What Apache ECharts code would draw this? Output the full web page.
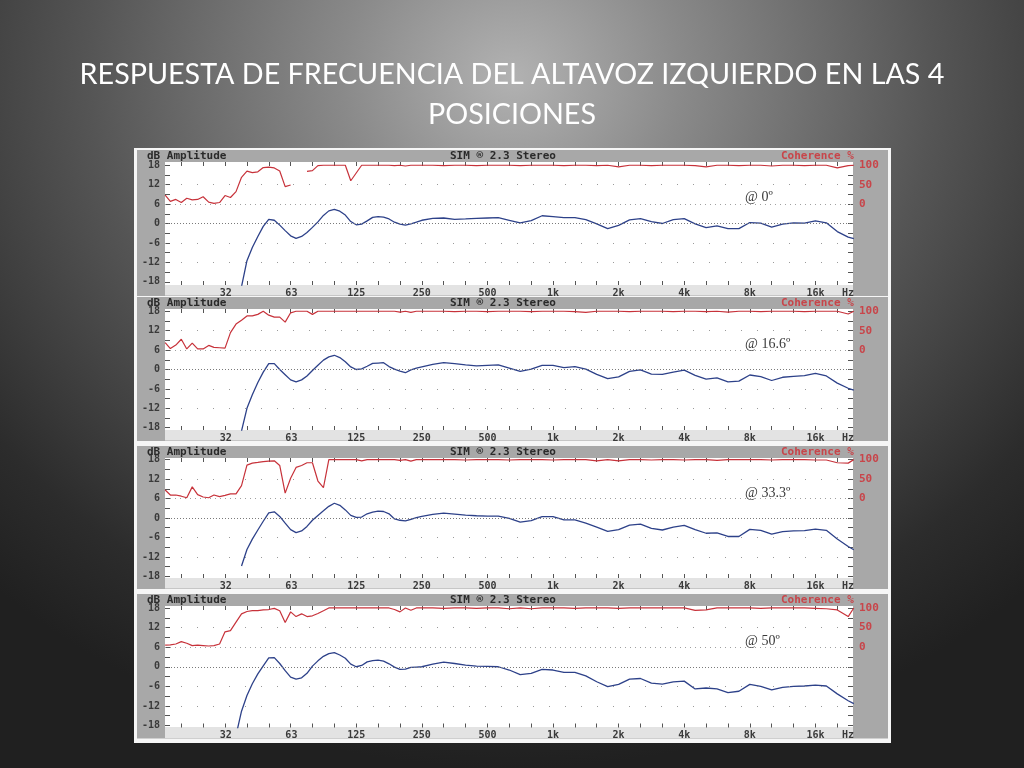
<!DOCTYPE html>
<html><head><meta charset="utf-8">
<script src="https://cdn.jsdelivr.net/npm/echarts@6/dist/echarts.min.js"></script>
<style>
html,body{margin:0;padding:0;width:1024px;height:768px;overflow:hidden;
background:radial-gradient(ellipse 75% 90% at 50% 10%, #b2b2b2 0%, #8a8a8a 22%, #555555 55%, #2c2c2c 85%, #202020 100%);}
#c{width:1024px;height:768px;}
</style></head><body><div id="c"></div>
<script>
// ---------- DATA ----------
const titleLines = ['RESPUESTA DE FRECUENCIA DEL ALTAVOZ IZQUIERDO EN LAS 4', 'POSICIONES'];
const headerLeft = 'dB Amplitude';
const headerMid = 'SIM \u00AE 2.3 Stereo';
const headerRight = 'Coherence %';
const panelLabels = ['@ 0\u00BA', '@ 16.6\u00BA', '@ 33.3\u00BA', '@ 50\u00BA'];

const xTickFreq = [31.5, 63, 125, 250, 500, 1000, 2000, 4000, 8000, 16000, 22600];
const xTickLabels = ['32', '63', '125', '250', '500', '1k', '2k', '4k', '8k', '16k', 'Hz'];
const yTickLabels = [-18, -12, -6, 0, 6, 12, 18];
const cohTickLabels = [0, 50, 100];

// amplitude (blue) — frequency in Hz, values in dB
const ampFreq = [35.1, 37.2, 39.4, 41.7, 44.2, 46.8, 49.6, 52.6, 55.7, 59.0, 62.5, 66.2, 70.2, 74.3, 78.7, 83.4, 88.4, 93.6, 99.2, 105.1, 111.4, 118.0, 125, 132.4, 140.3, 148.7, 157.5, 166.9, 176.8, 187.3, 198.4, 210.2, 222.7, 236.0, 250, 280.6, 315, 353.6, 396.9, 445.5, 500, 561, 630, 707, 794, 891, 1000, 1122, 1260, 1414, 1587, 1782, 2000, 2245, 2520, 2828, 3175, 3564, 4000, 4490, 5040, 5657, 6350, 7127, 8000, 8980, 10080, 11314, 12699, 14254, 16000, 17959, 20159, 22627, 24000];
const ampP1 = [-25, -19.5, -11.5, -7.4, -4.0, -0.9, 1.3, 1.0, -0.5, -2.2, -3.8, -4.6, -4.0, -2.8, -1.2, 0.5, 2.5, 3.9, 4.35, 3.8, 2.6, 0.6, -0.4, -0.2, 0.8, 1.9, 2.1, 2.0, 1.4, 0.4, -0.2, -0.5, -0.1, 0.4, 1.0, 1.6, 1.7, 1.3, 1.4, 1.6, 1.7, 1.8, 1.0, 0.2, 0.9, 2.4, 2.1, 1.8, 1.8, 1.2, -0.1, -1.6, -0.6, 1.1, 1.5, 0.6, 0, 1.2, 1.5, -0.1, -1.3, -0.7, -1.6, -1.6, 0.3, 0.1, -1.1, -0.2, 0.2, 0.1, 0.8, 0.2, -2.5, -4.2, -4.7];
const ampP2 = [-25, -19, -12, -7.8, -4.0, -0.8, 1.8, 1.8, 0.0, -1.6, -3.2, -3.8, -3.2, -2.0, -0.3, 1.3, 2.9, 3.9, 4.4, 3.7, 2.4, 0.8, 0.0, 0.2, 1.0, 1.9, 2.0, 2.1, 0.9, 0.1, -0.5, -1.0, -0.1, 0.4, 0.8, 1.6, 2.1, 1.8, 1.4, 1.1, 1.3, 1.4, 0.4, -0.6, 0.1, 1.3, 1.3, 0.6, 0.9, 0.1, -1.5, -2.8, -2.3, -0.6, -0.1, -1.4, -1.5, -0.8, -0.2, -1.8, -3.0, -2.6, -3.8, -3.6, -1.7, -2.2, -3.4, -2.4, -2.1, -1.9, -1.2, -2.0, -4.2, -5.8, -6.4];
const ampP3 = [null, -14.8, -9.7, -6.5, -3.7, -1.0, 1.6, 1.9, 0.5, -1.6, -3.6, -4.5, -4.0, -2.6, -0.7, 0.8, 2.2, 3.6, 4.55, 3.9, 2.5, 0.8, 0.2, 0.3, 1.3, 1.8, 2.1, 2.0, 1.3, -0.3, -0.7, -0.9, -0.4, 0.1, 0.5, 1.1, 1.5, 1.2, 0.9, 0.7, 0.6, 0.6, -0.1, -1.3, -0.8, 0.4, 0.4, -0.6, -0.6, -1.6, -2.8, -4.1, -3.6, -2.2, -1.9, -3.2, -3.7, -2.8, -2.3, -3.6, -4.7, -4.6, -5.7, -5.7, -3.5, -3.8, -5.0, -4.2, -4.0, -3.9, -3.4, -3.8, -6.5, -8.8, -9.8];
const ampP4 = [-21, -13.6, -8.8, -5.2, -2.2, 0.3, 2.7, 2.8, 1.0, -1.2, -3.2, -3.8, -3.4, -2.0, 0.2, 1.8, 3.2, 4.0, 4.3, 3.6, 2.6, 0.8, 0.0, 0.4, 1.5, 1.9, 2.0, 1.7, 0.9, -0.1, -0.8, -0.7, -0.2, -0.1, 0.0, 0.8, 1.4, 1.0, 0.5, 0.2, 0.1, 0.0, -1.0, -2.4, -2.0, -0.8, -1.0, -1.7, -1.7, -2.8, -4.6, -6.1, -5.4, -3.8, -3.6, -5.0, -5.3, -4.6, -4.4, -6.8, -6.5, -6.8, -7.9, -7.5, -5.4, -6.0, -7.1, -6.3, -6.0, -5.9, -5.6, -5.9, -8.3, -10.4, -11.3];

// coherence (red) — frequency in Hz, values in %
const cohFreq = [16.6, 17.54, 18.58, 19.69, 20.86, 22.1, 23.4, 24.8, 26.3, 27.8, 29.5, 31.25, 33.1, 35.1, 37.2, 39.4, 41.7, 44.2, 46.8, 49.6, 52.6, 55.7, 59.0, 62.5, 66.2, 70.2, 74.3, 78.7, 83.4, 88.4, 93.6, 99.2, 105.1, 111.4, 118.0, 125, 132.4, 140.3, 148.7, 157.5, 166.9, 176.8, 187.3, 198.4, 210.2, 222.7, 236.0, 250, 280.6, 315, 353.6, 396.9, 445.5, 500, 561, 630, 707, 794, 891, 1000, 1122, 1260, 1414, 1587, 1782, 2000, 2245, 2520, 2828, 3175, 3564, 4000, 4490, 5040, 5657, 6350, 7127, 8000, 8980, 10080, 11314, 12699, 14254, 16000, 17959, 20159, 22627, 24000];
const cohP1 = [23, 7, 12, 4, 15, 11, 12, 19, 5, 2, 4, 22, 17, 32, 69, 85, 81, 83, 94, 95, 93, 85, 45, 49, null, null, 84, 86, 99, 100, 100, 100, 100, 100, 60, 80, 100, 100, 100, 100, 100, 100, 99, 100, 98, 100, 100, 100,
  100, 99, 100, 100, 99, 100, 100, 100, 99, 100, 100, 100, 99, 100, 100, 99, 100, 96, 100, 100, 99, 100, 100, 100, 99, 96, 100, 100, 99, 100, 100, 98, 100, 100, 99, 100, 100, 93, 99, 100];
const cohP2 = [19, 4, 13, 28, 3, 18, 3, 3, 12, 7, 6, 5, 45, 67, 77, 88, 88, 92, 100, 90, 85, 85, 72, 96, 100, 100, 100, 92, 100, 100, 100, 100, 100, 100, 100, 100, 100, 100, 100, 100, 100, 100, 100, 98, 100, 97, 100, 100,
  100, 100, 99, 100, 100, 99, 100, 100, 100, 99, 100, 100, 100, 99, 97, 100, 100, 100, 99, 100, 100, 100, 99, 100, 100, 99, 100, 98, 100, 100, 99, 100, 100, 100, 99, 100, 100, 100, 93, 100];
const cohP3 = [22, 9, 9, 6, 2, 30, 10, 4, 2, 9, 5, 8, 12, 12, 33, 86, 91, 93, 95, 96, 97, 85, 14, 52, 80, 85, 92, 92, 45, 28, 100, 100, 100, 100, 100, 100, 97, 100, 100, 100, 100, 100, 100, 98, 100, 96, 100, 100,
  100, 100, 100, 99, 100, 100, 100, 99, 100, 100, 100, 99, 100, 100, 100, 97, 100, 97, 100, 100, 99, 100, 100, 99, 100, 100, 98, 100, 100, 100, 100, 99, 100, 100, 100, 99, 99, 92, 91, 100];
const cohP4 = [5, 6, 8, 14, 10, 4, 5, 4, 3, 4, 8, 39, 42, 64, 85, 91, 93, 93, 95, 96, 99, 93, 63, 90, 78, 85, 78, 80, 86, 93, 100, 100, 100, 100, 100, 100, 100, 100, 100, 100, 100, 100, 96, 90, 100, 94, 100, 100,
  100, 99, 100, 100, 99, 100, 100, 98, 100, 98, 100, 100, 100, 99, 100, 100, 100, 99, 100, 100, 100, 100, 100, 100, 94, 95, 100, 100, 100, 100, 99, 100, 100, 100, 100, 99, 98, 95, 78, 100];

// ---------- LAYOUT / STYLE ----------
const ampAll = [ampP1, ampP2, ampP3, ampP4];
const cohAll = [cohP1, cohP2, cohP3, cohP4];
const PANELS = [
  {top: 162, bottom: 285, yr: 19},
  {top: 309, bottom: 430, yr: 18.7},
  {top: 458, bottom: 578, yr: 18.5},
  {top: 606, bottom: 727.5, yr: 18.6}
];
const X_MIN = -5.915, X_MAX = 4.573;
const PLOT_L = 165, PLOT_W = 688;
const mono = '"DejaVu Sans Mono", monospace';
const oct = f => Math.log2(f / 1000);
const dbToCoh = d => (d - 6) * 100 / 12;
const thirdOct = []; for (let k = -17; k <= 13; k++) thirdOct.push(k / 3);
const dbTicks = []; for (let v = -18; v <= 18; v += 3) dbTicks.push(v);
const xLabelVals = xTickFreq.map(oct);
function xLabel(v) {
  let best = 0, bd = 1e9;
  xLabelVals.forEach((x, i) => { const d = Math.abs(x - v); if (d < bd) { bd = d; best = i; } });
  return xTickLabels[best];
}

const grid = [], xAxis = [], yAxis = [], series = [], graphic = [];
graphic.push({type: 'rect', shape: {x: 134, y: 148, width: 757, height: 595}, style: {fill: '#f6f6f6'}, z: -100});

PANELS.forEach((p, i) => {
  grid.push({left: PLOT_L, width: PLOT_W, top: p.top, height: p.bottom - p.top, show: true, backgroundColor: '#ffffff', borderWidth: 0});
  const tickStyle = {color: '#555', width: 1};
  const noLine = {show: false, onZero: false};
  xAxis.push({type: 'value', gridIndex: i, min: X_MIN, max: X_MAX, position: 'bottom',
    axisLine: noLine, splitLine: {show: false},
    axisTick: {show: true, inside: true, length: 4, customValues: thirdOct, lineStyle: tickStyle},
    axisLabel: {show: true, customValues: xLabelVals, formatter: xLabel, color: '#3a3a3a', fontFamily: mono, fontSize: 10, fontWeight: 'bold', margin: 3}
  });
  xAxis.push({type: 'value', gridIndex: i, min: X_MIN, max: X_MAX, position: 'top',
    axisLine: noLine, splitLine: {show: false},
    axisTick: {show: true, inside: true, length: 4, customValues: thirdOct, lineStyle: tickStyle},
    axisLabel: {show: false}
  });
  yAxis.push({type: 'value', gridIndex: i, min: -p.yr, max: p.yr, position: 'left',
    axisLine: noLine, splitLine: {show: false},
    axisTick: {show: true, inside: true, length: 5, customValues: dbTicks, lineStyle: tickStyle},
    axisLabel: {customValues: yTickLabels, color: '#3a3a3a', fontFamily: mono, fontSize: 10, fontWeight: 'bold', margin: 5}
  });
  yAxis.push({type: 'value', gridIndex: i, min: dbToCoh(-p.yr), max: dbToCoh(p.yr), position: 'right',
    axisLine: noLine, splitLine: {show: false},
    axisTick: {show: true, inside: true, length: 5, customValues: dbTicks.map(dbToCoh), lineStyle: tickStyle},
    axisLabel: {customValues: cohTickLabels, color: '#c8454a', fontFamily: mono, fontSize: 11, fontWeight: 'bold', margin: 6}
  });
  const dots = (v, dash, color) => ({yAxis: v, lineStyle: {type: dash, color: color, width: 1}});
  series.push({type: 'line', xAxisIndex: 2 * i, yAxisIndex: 2 * i,
    data: ampFreq.map((f, j) => [oct(f), ampAll[i][j]]),
    symbol: 'none', lineStyle: {color: '#2d4189', width: 1.3}, z: 4, animation: false,
    markLine: {silent: true, symbol: 'none', animation: false, label: {show: false},
      data: [dots(0, [1, 2], '#7a7a7a'), dots(6, [1, 4], '#a0a0a0'), dots(12, [1, 15], '#9a9a9a'), dots(-6, [1, 15], '#9a9a9a'), dots(-12, [1, 15], '#9a9a9a')]}
  });
  series.push({type: 'line', xAxisIndex: 2 * i, yAxisIndex: 2 * i + 1,
    data: cohFreq.map((f, j) => [oct(f), cohAll[i][j]]),
    symbol: 'none', lineStyle: {color: '#c7323a', width: 1.2}, z: 3, animation: false
  });
  // panel frame
  graphic.push({type: 'rect', shape: {x: 137, y: p.top - 12, width: 751, height: p.bottom - p.top + 23}, style: {fill: '#a8a8a8'}, z: -90});
  graphic.push({type: 'rect', shape: {x: PLOT_L, y: p.bottom, width: PLOT_W, height: 10.5}, style: {fill: '#e3e3e3'}, z: -80});
  const hy = p.top - 5.5;
  graphic.push({type: 'text', x: 147, y: hy, style: {text: headerLeft, fill: '#2a2a2a', font: 'bold 11px ' + mono, textVerticalAlign: 'middle'}, z: 10});
  graphic.push({type: 'text', x: 450, y: hy, style: {text: headerMid, fill: '#2a2a2a', font: 'bold 11px ' + mono, textVerticalAlign: 'middle'}, z: 10});
  graphic.push({type: 'text', x: 781, y: hy, style: {text: headerRight, fill: '#c8454a', font: 'bold 11px ' + mono, textVerticalAlign: 'middle'}, z: 10});
  graphic.push({type: 'text', x: 745, y: p.top + 35, style: {text: panelLabels[i], fill: '#3a3a3a', font: '14px "Liberation Serif", "DejaVu Serif", serif', textVerticalAlign: 'middle'}, z: 10});
});

const titleFont = '28.7px Lato, "Open Sans", sans-serif';
graphic.push({type: 'text', x: 512, y: 75, style: {text: titleLines[0], fill: '#ffffff', font: titleFont, textAlign: 'center', textVerticalAlign: 'middle'}, z: 10});
graphic.push({type: 'text', x: 512, y: 115, style: {text: titleLines[1], fill: '#ffffff', font: titleFont, textAlign: 'center', textVerticalAlign: 'middle'}, z: 10});

const chart = echarts.init(document.getElementById('c'), null, {renderer: 'canvas', width: 1024, height: 768});
chart.setOption({
  backgroundColor: 'transparent',
  animation: false,
  grid, xAxis, yAxis, series, graphic
});
</script>
</body></html>
